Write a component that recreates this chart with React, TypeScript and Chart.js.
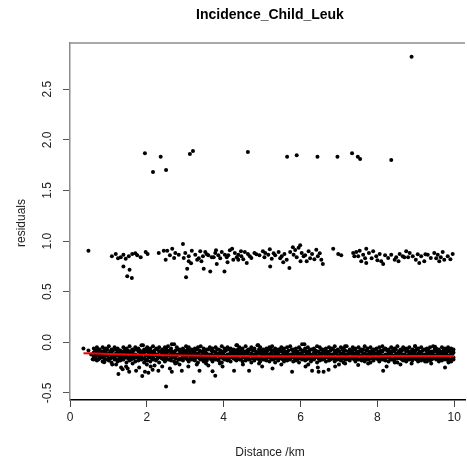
import React, { useEffect, useRef } from "react";
import { Chart, registerables } from "chart.js";

Chart.register(...registerables);

const TITLE = "Incidence_Child_Leuk";
const X_TITLE = "Distance /km";
const Y_TITLE = "residuals";

const xTicks = [0, 2, 4, 6, 8, 10];
const yTicks = [-0.5, 0, 0.5, 1, 1.5, 2, 2.5];
const yTickLabels = ["-0.5", "0.0", "0.5", "1.0", "1.5", "2.0", "2.5"];

// top cluster (~1.8) and the single high outlier
const topX = [1.95, 2.16, 2.36, 2.5, 3.12, 3.2, 4.63, 5.65, 5.9, 6.44, 6.96, 7.34, 7.49, 7.55, 8.36, 8.89];
const topY = [1.868, 1.683, 1.834, 1.703, 1.861, 1.89, 1.88, 1.834, 1.848, 1.834, 1.834, 1.868, 1.834, 1.81, 1.8, 2.822];

// middle band (~0.85)
const midX = [
  0.48, 1.09, 1.19, 1.32, 1.39, 1.45, 1.53, 1.62, 1.75, 1.84, 1.97, 2.02, 1.39, 1.55, 1.49, 1.61,
  2.31, 2.44, 2.53, 2.66, 2.74, 2.49, 2.71, 2.94, 2.83, 2.96, 3.0, 3.09, 3.17, 3.26, 3.31, 3.39,
  3.46, 3.52, 3.6, 3.69, 3.78, 3.86, 3.95, 4.03, 4.08, 4.16, 4.22, 4.29, 4.38, 4.46, 4.55, 4.63,
  4.72, 4.8, 4.93, 5.02, 5.06, 3.09, 3.05, 3.02, 3.48, 3.65, 3.82, 4.02, 4.6, 4.38, 4.25,
  5.08, 5.16, 5.25, 5.21, 5.34, 5.43, 5.51, 5.58, 5.64, 5.71, 5.73, 5.82, 5.86, 5.95, 5.99, 6.03,
  6.08, 6.16, 6.21, 6.3, 6.41, 6.45, 6.54, 6.58, 6.85, 6.98, 7.06, 7.37, 7.45, 7.54, 7.63, 7.71,
  7.78, 7.58, 7.71, 7.89, 7.97, 8.06, 8.1, 8.15, 8.28, 8.36, 8.45, 8.49, 8.58, 8.66, 8.75, 8.84,
  8.92, 9.0, 9.09, 9.14, 9.22, 9.31, 9.39, 9.48, 9.57, 9.61, 9.7, 9.74, 9.83, 9.96,
  3.35, 3.56, 3.74, 3.91, 4.12, 4.34, 4.51, 4.68, 4.85, 5.3, 5.47, 5.9, 6.12, 6.36, 7.5, 7.85, 8.2, 8.7, 9.05, 9.53,
  1.25, 1.7, 2.6, 3.15, 3.42, 3.8, 4.1, 4.45, 5.2, 5.55, 5.8, 6.0, 6.25, 6.5, 7.4, 7.68, 8.0, 8.55, 8.8, 9.25, 9.65, 9.9
];
const midY = [
  0.905, 0.85, 0.873, 0.84, 0.865, 0.826, 0.85, 0.873, 0.86, 0.84, 0.892, 0.873, 0.75, 0.718, 0.652, 0.635,
  0.882, 0.905, 0.905, 0.925, 0.882, 0.816, 0.833, 0.971, 0.865, 0.833, 0.882, 0.85, 0.905, 0.865, 0.816, 0.9,
  0.85, 0.892, 0.86, 0.84, 0.882, 0.86, 0.892, 0.865, 0.84, 0.91, 0.925, 0.882, 0.865, 0.85, 0.892, 0.873,
  0.833, 0.882, 0.86, 0.9, 0.84, 0.8, 0.727, 0.642, 0.727, 0.7, 0.774, 0.7, 0.783, 0.816, 0.816,
  0.882, 0.865, 0.826, 0.75, 0.86, 0.892, 0.85, 0.873, 0.816, 0.734, 0.892, 0.865, 0.912, 0.935, 0.96, 0.882,
  0.85, 0.8, 0.9, 0.873, 0.915, 0.85, 0.816, 0.774, 0.925, 0.873, 0.86, 0.882, 0.892, 0.905, 0.865, 0.925,
  0.882, 0.8, 0.783, 0.9, 0.85, 0.873, 0.8, 0.774, 0.833, 0.865, 0.816, 0.84, 0.873, 0.85, 0.9, 0.882,
  0.85, 0.816, 0.783, 0.85, 0.8, 0.865, 0.833, 0.882, 0.865, 0.8, 0.892, 0.816, 0.85, 0.873,
  0.83, 0.87, 0.84, 0.83, 0.86, 0.84, 0.82, 0.85, 0.87, 0.88, 0.83, 0.84, 0.86, 0.82, 0.85, 0.83, 0.86, 0.84, 0.87, 0.83,
  0.83, 0.88, 0.86, 0.78, 0.8, 0.91, 0.79, 0.9, 0.92, 0.79, 0.94, 0.8, 0.83, 0.88, 0.85, 0.83, 0.81, 0.8, 0.84, 0.87, 0.84, 0.82
];

// dense bottom band (~-0.12): column positions and rows of residuals
const bandX = [
  0.62, 0.7, 0.77, 0.85, 0.93, 1.01, 1.08, 1.16, 1.24, 1.31,
  1.39, 1.47, 1.55, 1.62, 1.7, 1.78, 1.86, 1.93, 2.01, 2.09,
  2.16, 2.24, 2.32, 2.4, 2.47, 2.55, 2.63, 2.71, 2.78, 2.86,
  2.94, 3.02, 3.09, 3.17, 3.25, 3.33, 3.4, 3.48, 3.56, 3.64,
  3.71, 3.79, 3.87, 3.95, 4.02, 4.1, 4.18, 4.26, 4.33, 4.41,
  4.49, 4.57, 4.64, 4.72, 4.8, 4.88, 4.95, 5.03, 5.11, 5.19,
  5.26, 5.34, 5.42, 5.5, 5.57, 5.65, 5.73, 5.81, 5.88, 5.96,
  6.04, 6.12, 6.19, 6.27, 6.35, 6.43, 6.5, 6.58, 6.66, 6.74,
  6.81, 6.89, 6.97, 7.05, 7.12, 7.2, 7.28, 7.36, 7.43, 7.51,
  7.59, 7.67, 7.74, 7.82, 7.9, 7.98, 8.05, 8.13, 8.21, 8.29,
  8.36, 8.44, 8.52, 8.6, 8.67, 8.75, 8.83, 8.91, 8.98, 9.06,
  9.14, 9.22, 9.29, 9.37, 9.45, 9.53, 9.6, 9.68, 9.76, 9.84,
  9.92, 9.98
];
const bandRow1 = [
  -0.06, -0.05, -0.07, -0.05, -0.06, -0.04, -0.07, -0.05, -0.06, -0.08,
  -0.05, -0.06, -0.04, -0.07, -0.05, -0.06, -0.03, -0.07, -0.05, -0.06,
  -0.04, -0.06, -0.05, -0.07, -0.05, -0.04, -0.06, -0.02, -0.05, -0.07,
  -0.06, -0.04, -0.05, -0.07, -0.06, -0.05, -0.04, -0.06, -0.07, -0.05,
  -0.06, -0.05, -0.07, -0.04, -0.06, -0.05, -0.06, -0.07, -0.03, -0.05,
  -0.06, -0.04, -0.07, -0.05, -0.06, -0.03, -0.05, -0.07, -0.06, -0.05,
  -0.04, -0.06, -0.07, -0.05, -0.06, -0.05, -0.04, -0.07, -0.06, -0.05,
  -0.02, -0.06, -0.05, -0.07, -0.06, -0.04, -0.05, -0.07, -0.06, -0.05,
  -0.06, -0.04, -0.07, -0.05, -0.06, -0.04, -0.07, -0.05, -0.06, -0.05,
  -0.07, -0.04, -0.06, -0.05, -0.07, -0.06, -0.05, -0.04, -0.06, -0.07,
  -0.05, -0.06, -0.04, -0.07, -0.05, -0.06, -0.05, -0.07, -0.04, -0.06,
  -0.05, -0.07, -0.06, -0.05, -0.04, -0.06, -0.07, -0.05, -0.06, -0.05,
  -0.06, -0.07
];
const bandRow2 = [
  -0.1, -0.09, -0.11, -0.1, -0.09, -0.11, -0.1, -0.12, -0.09, -0.11,
  -0.1, -0.09, -0.11, -0.1, -0.12, -0.09, -0.11, -0.1, -0.09, -0.11,
  -0.1, -0.12, -0.09, -0.11, -0.1, -0.09, -0.11, -0.1, -0.12, -0.09,
  -0.11, -0.1, -0.09, -0.12, -0.1, -0.11, -0.09, -0.1, -0.11, -0.12,
  -0.09, -0.1, -0.11, -0.1, -0.09, -0.12, -0.1, -0.11, -0.09, -0.1,
  -0.11, -0.1, -0.09, -0.11, -0.12, -0.1, -0.09, -0.11, -0.1, -0.12,
  -0.09, -0.11, -0.1, -0.09, -0.11, -0.1, -0.12, -0.09, -0.1, -0.11,
  -0.1, -0.09, -0.11, -0.12, -0.1, -0.09, -0.11, -0.1, -0.09, -0.11,
  -0.12, -0.1, -0.09, -0.11, -0.1, -0.12, -0.09, -0.1, -0.11, -0.1,
  -0.09, -0.11, -0.12, -0.1, -0.09, -0.11, -0.1, -0.09, -0.12, -0.11,
  -0.1, -0.09, -0.11, -0.1, -0.12, -0.09, -0.11, -0.1, -0.09, -0.11,
  -0.1, -0.12, -0.09, -0.11, -0.1, -0.09, -0.11, -0.12, -0.1, -0.09,
  -0.11, -0.1
];
const bandRow3 = [
  -0.14, -0.13, -0.15, -0.14, -0.13, -0.16, -0.14, -0.15, -0.13, -0.14,
  -0.16, -0.13, -0.15, -0.14, -0.13, -0.15, -0.14, -0.16, -0.13, -0.14,
  -0.15, -0.13, -0.14, -0.16, -0.15, -0.13, -0.14, -0.15, -0.13, -0.16,
  -0.14, -0.15, -0.13, -0.14, -0.16, -0.13, -0.15, -0.14, -0.13, -0.15,
  -0.16, -0.14, -0.13, -0.15, -0.14, -0.16, -0.13, -0.14, -0.15, -0.13,
  -0.14, -0.16, -0.15, -0.13, -0.14, -0.15, -0.16, -0.13, -0.14, -0.15,
  -0.13, -0.14, -0.16, -0.15, -0.13, -0.14, -0.15, -0.13, -0.16, -0.14,
  -0.15, -0.13, -0.14, -0.15, -0.16, -0.13, -0.14, -0.15, -0.13, -0.14,
  -0.16, -0.15, -0.13, -0.14, -0.15, -0.13, -0.16, -0.14, -0.15, -0.13,
  -0.14, -0.16, -0.15, -0.13, -0.14, -0.15, -0.13, -0.16, -0.14, -0.15,
  -0.13, -0.14, -0.16, -0.15, -0.13, -0.14, -0.15, -0.16, -0.13, -0.14,
  -0.15, -0.13, -0.16, -0.14, -0.15, -0.13, -0.14, -0.16, -0.15, -0.14,
  -0.13, -0.15
];
const bandRow4 = [
  -0.17, -0.18, -0.16, -0.19, -0.17, -0.18, -0.2, -0.17, -0.19, -0.18,
  -0.17, -0.2, -0.18, -0.16, -0.19, -0.18, -0.17, -0.2, -0.18, -0.19,
  -0.17, -0.18, -0.2, -0.16, -0.19, -0.17, -0.18, -0.19, -0.2, -0.17,
  -0.18, -0.16, -0.19, -0.17, -0.18, -0.2, -0.17, -0.19, -0.18, -0.16,
  -0.19, -0.17, -0.18, -0.2, -0.17, -0.18, -0.19, -0.16, -0.18, -0.17,
  -0.19, -0.18, -0.17, -0.2, -0.18, -0.16, -0.19, -0.17, -0.18, -0.19,
  -0.17, -0.2, -0.18, -0.16, -0.19, -0.18, -0.17, -0.19, -0.18, -0.2,
  -0.17, -0.18, -0.16, -0.19, -0.17, -0.2, -0.18, -0.17, -0.19, -0.18,
  -0.16, -0.19, -0.17, -0.18, -0.2, -0.17, -0.18, -0.16, -0.19, -0.17,
  -0.18, -0.19, -0.17, -0.2, -0.18, -0.16, -0.19, -0.17, -0.18, -0.19,
  -0.17, -0.18, -0.2, -0.16, -0.18, -0.19, -0.17, -0.18, -0.16, -0.19,
  -0.18, -0.17, -0.19, -0.18, -0.16, -0.17, -0.19, -0.18, -0.17, -0.18,
  -0.19, -0.17
];
const bandX2 = [
  0.66, 0.74, 0.81, 0.89, 0.97, 1.05, 1.12, 1.2, 1.28, 1.35,
  1.43, 1.51, 1.59, 1.66, 1.74, 1.82, 1.9, 1.97, 2.05, 2.13,
  2.2, 2.28, 2.36, 2.44, 2.51, 2.59, 2.67, 2.75, 2.82, 2.9,
  2.98, 3.06, 3.13, 3.21, 3.29, 3.37, 3.44, 3.52, 3.6, 3.68,
  3.75, 3.83, 3.91, 3.99, 4.06, 4.14, 4.22, 4.3, 4.37, 4.45,
  4.53, 4.61, 4.68, 4.76, 4.84, 4.92, 4.99, 5.07, 5.15, 5.23,
  5.3, 5.38, 5.46, 5.54, 5.61, 5.69, 5.77, 5.85, 5.92, 6.0,
  6.08, 6.16, 6.23, 6.31, 6.39, 6.47, 6.54, 6.62, 6.7, 6.78,
  6.85, 6.93, 7.01, 7.09, 7.16, 7.24, 7.32, 7.4, 7.47, 7.55,
  7.63, 7.71, 7.78, 7.86, 7.94, 8.02, 8.09, 8.17, 8.25, 8.33,
  8.4, 8.48, 8.56, 8.64, 8.71, 8.79, 8.87, 8.95, 9.02, 9.1,
  9.18, 9.26, 9.33, 9.41, 9.49, 9.57, 9.64, 9.72, 9.8, 9.88,
  9.95
];
const bandRowA = [
  -0.08, -0.07, -0.09, -0.08, -0.07, -0.09, -0.08, -0.07, -0.08, -0.09,
  -0.07, -0.08, -0.09, -0.08, -0.07, -0.08, -0.09, -0.07, -0.08, -0.09,
  -0.08, -0.07, -0.09, -0.08, -0.07, -0.08, -0.09, -0.08, -0.07, -0.09,
  -0.08, -0.07, -0.08, -0.09, -0.07, -0.08, -0.09, -0.08, -0.07, -0.08,
  -0.09, -0.07, -0.08, -0.09, -0.08, -0.07, -0.09, -0.08, -0.07, -0.08,
  -0.09, -0.08, -0.07, -0.08, -0.09, -0.07, -0.08, -0.09, -0.08, -0.07,
  -0.08, -0.09, -0.07, -0.08, -0.09, -0.08, -0.07, -0.08, -0.09, -0.07,
  -0.08, -0.09, -0.08, -0.07, -0.08, -0.09, -0.07, -0.08, -0.09, -0.08,
  -0.07, -0.08, -0.09, -0.07, -0.08, -0.09, -0.08, -0.07, -0.09, -0.08,
  -0.07, -0.08, -0.09, -0.08, -0.07, -0.09, -0.08, -0.07, -0.08, -0.09,
  -0.08, -0.07, -0.09, -0.08, -0.07, -0.08, -0.09, -0.08, -0.07, -0.09,
  -0.08, -0.07, -0.08, -0.09, -0.07, -0.08, -0.09, -0.08, -0.07, -0.08,
  -0.09
];
const bandRowB = [
  -0.12, -0.13, -0.12, -0.11, -0.13, -0.12, -0.13, -0.11, -0.12, -0.13,
  -0.12, -0.11, -0.13, -0.12, -0.13, -0.12, -0.11, -0.13, -0.12, -0.13,
  -0.11, -0.12, -0.13, -0.12, -0.11, -0.13, -0.12, -0.13, -0.12, -0.11,
  -0.13, -0.12, -0.11, -0.13, -0.12, -0.13, -0.12, -0.11, -0.13, -0.12,
  -0.13, -0.12, -0.11, -0.12, -0.13, -0.12, -0.13, -0.11, -0.12, -0.13,
  -0.12, -0.11, -0.13, -0.12, -0.13, -0.11, -0.12, -0.13, -0.12, -0.11,
  -0.13, -0.12, -0.13, -0.12, -0.11, -0.13, -0.12, -0.11, -0.13, -0.12,
  -0.13, -0.12, -0.11, -0.13, -0.12, -0.13, -0.12, -0.11, -0.12, -0.13,
  -0.12, -0.11, -0.13, -0.12, -0.13, -0.12, -0.11, -0.13, -0.12, -0.13,
  -0.11, -0.12, -0.13, -0.12, -0.11, -0.13, -0.12, -0.13, -0.12, -0.11,
  -0.13, -0.12, -0.11, -0.13, -0.12, -0.13, -0.12, -0.11, -0.13, -0.12,
  -0.13, -0.12, -0.11, -0.12, -0.13, -0.12, -0.13, -0.11, -0.12, -0.13,
  -0.12
];
const bandRowC = [
  -0.16, -0.17, -0.15, -0.16, -0.17, -0.16, -0.15, -0.17, -0.16, -0.17,
  -0.15, -0.16, -0.17, -0.16, -0.15, -0.17, -0.16, -0.17, -0.15, -0.16,
  -0.17, -0.16, -0.15, -0.17, -0.16, -0.17, -0.15, -0.16, -0.17, -0.16,
  -0.15, -0.17, -0.16, -0.17, -0.15, -0.16, -0.17, -0.16, -0.15, -0.17,
  -0.16, -0.17, -0.15, -0.16, -0.17, -0.16, -0.15, -0.17, -0.16, -0.17,
  -0.15, -0.16, -0.17, -0.16, -0.15, -0.17, -0.16, -0.17, -0.15, -0.16,
  -0.17, -0.16, -0.15, -0.17, -0.16, -0.17, -0.15, -0.16, -0.17, -0.16,
  -0.15, -0.17, -0.16, -0.17, -0.15, -0.16, -0.17, -0.16, -0.15, -0.17,
  -0.16, -0.17, -0.15, -0.16, -0.17, -0.16, -0.15, -0.17, -0.16, -0.17,
  -0.15, -0.16, -0.17, -0.16, -0.15, -0.17, -0.16, -0.17, -0.15, -0.16,
  -0.17, -0.16, -0.15, -0.17, -0.16, -0.17, -0.15, -0.16, -0.17, -0.16,
  -0.15, -0.17, -0.16, -0.17, -0.15, -0.16, -0.17, -0.16, -0.15, -0.17,
  -0.16
];

// scattered points around the bottom band
const lowX = [
  0.35, 0.59, 0.89, 1.26, 1.37, 1.46, 1.54, 1.63, 1.72, 1.88, 1.95, 2.04, 2.1, 2.3, 2.5, 2.65,
  2.74, 2.91, 3.08, 3.22, 3.37, 3.54, 3.71, 3.78, 3.97, 4.27, 4.66, 4.92, 5.27, 5.78, 6.13, 6.3,
  6.47, 6.6, 6.73, 6.9, 7.16, 7.5, 7.76, 8.15, 8.24, 8.45, 8.89, 9.24, 9.76,
  1.9, 2.65, 4.35, 4.9, 6.1, 7.16, 8.98, 9.5, 0.48, 0.55, 1.2, 1.33, 2.2, 2.85, 3.6, 5.5,
  1.1, 1.5, 1.8, 2.0, 2.15, 2.4, 2.6, 3.3, 3.9, 4.5, 5.0, 6.2, 6.45, 7.0, 8.6, 9.4, 9.85
];
const lowY = [
  -0.06, -0.168, -0.198, -0.313, -0.267, -0.24, -0.29, -0.21, -0.28, -0.333, -0.29, -0.3, -0.24, -0.28, -0.436, -0.29,
  -0.21, -0.28, -0.24, -0.39, -0.28, -0.21, -0.285, -0.33, -0.24, -0.28, -0.28, -0.21, -0.26, -0.29, -0.24, -0.28,
  -0.29, -0.29, -0.27, -0.24, -0.21, -0.225, -0.21, -0.28, -0.24, -0.2, -0.21, -0.19, -0.25,
  -0.03, -0.02, -0.03, -0.03, -0.02, -0.04, -0.04, -0.045, -0.08, -0.12, -0.22, -0.25, -0.23, -0.22, -0.23, -0.22,
  -0.22, -0.26, -0.25, -0.22, -0.27, -0.24, -0.26, -0.22, -0.21, -0.22, -0.24, -0.22, -0.25, -0.22, -0.22, -0.21, -0.2
];

// red smoother
const fitX = [0.35, 1, 2, 3, 4, 5, 6, 7, 8, 9, 10];
const fitY = [-0.108, -0.115, -0.124, -0.131, -0.135, -0.137, -0.138, -0.138, -0.137, -0.136, -0.135];

const toPts = (xs: number[], ys: number[]) => xs.map((x, i) => ({ x, y: ys[i] }));

const FONT = '"Liberation Sans", Arial, Helvetica, sans-serif';

const textPlugin = {
  id: "rtexts",
  afterDraw(chart: any) {
    const { ctx, chartArea, scales } = chart;
    ctx.save();
    ctx.strokeStyle = "#8c8c8c";
    ctx.lineWidth = 1.5;
    ctx.beginPath();
    ctx.moveTo(chartArea.left, chartArea.top);
    ctx.lineTo(chartArea.right, chartArea.top);
    ctx.stroke();

    ctx.fillStyle = "#000";
    ctx.textAlign = "center";
    ctx.textBaseline = "middle";
    ctx.font = `bold 14px ${FONT}`;
    ctx.fillText(TITLE, 270, 15);

    ctx.fillStyle = "#222";
    ctx.font = `12px ${FONT}`;
    ctx.fillText(X_TITLE, 270, 453);

    ctx.save();
    ctx.translate(22, 223);
    ctx.rotate(-Math.PI / 2);
    ctx.fillText(Y_TITLE, 0, 0);
    ctx.restore();

    yTicks.forEach((v, i) => {
      const py = scales.y.getPixelForValue(v);
      ctx.save();
      ctx.translate(48, py);
      ctx.rotate(-Math.PI / 2);
      ctx.fillText(yTickLabels[i], 0, 0);
      ctx.restore();
    });
    ctx.restore();
  },
};

export default function App() {
  const ref = useRef<HTMLCanvasElement>(null);
  useEffect(() => {
    if (!ref.current) return;
    const pointStyle = {
      type: "scatter" as const,
      backgroundColor: "#000",
      borderWidth: 0,
      pointRadius: 2,
      pointHoverRadius: 2,
    };
    const chart = new Chart(ref.current, {
      type: "scatter",
      data: {
        datasets: [
          {
            type: "line",
            data: toPts(fitX, fitY),
            borderColor: "#ff0000",
            borderWidth: 2,
            pointRadius: 0,
            showLine: true,
            fill: false,
            tension: 0.3,
          } as any,
          { ...pointStyle, data: toPts(bandX, bandRow1) },
          { ...pointStyle, data: toPts(bandX, bandRow2) },
          { ...pointStyle, data: toPts(bandX, bandRow3) },
          { ...pointStyle, data: toPts(bandX, bandRow4) },
          { ...pointStyle, data: toPts(bandX2, bandRowA) },
          { ...pointStyle, data: toPts(bandX2, bandRowB) },
          { ...pointStyle, data: toPts(bandX2, bandRowC) },
          { ...pointStyle, data: toPts(lowX, lowY) },
          { ...pointStyle, data: toPts(midX, midY) },
          { ...pointStyle, data: toPts(topX, topY) },
        ],
      },
      plugins: [textPlugin],
      options: {
        responsive: false,
        animation: false,
        layout: { padding: { top: 43, right: 0, left: 0, bottom: 0 } },
        plugins: { legend: { display: false }, tooltip: { enabled: false }, title: { display: false } },
        scales: {
          x: {
            type: "linear",
            min: 0,
            max: 10.28,
            afterBuildTicks: (s: any) => {
              s.ticks = xTicks.map((v) => ({ value: v }));
            },
            afterFit: (s: any) => {
              s.height = 65;
            },
            border: { display: true, color: "#000", width: 1.5 },
            grid: { display: true, drawOnChartArea: false, drawTicks: true, tickLength: 7, color: "#444", lineWidth: 1 },
            ticks: {
              color: "#222",
              font: { family: FONT, size: 12 },
              padding: 3,
              maxRotation: 0,
              callback: (v: any) => String(v),
            },
          },
          y: {
            type: "linear",
            min: -0.57,
            max: 2.957,
            afterBuildTicks: (s: any) => {
              s.ticks = yTicks.map((v) => ({ value: v }));
            },
            afterFit: (s: any) => {
              s.width = 70;
            },
            border: { display: true, color: "#8c8c8c", width: 1.5 },
            grid: { display: true, drawOnChartArea: false, drawTicks: true, tickLength: 7, color: "#555", lineWidth: 1 },
            ticks: { display: false },
          },
        },
      },
    });
    return () => chart.destroy();
  }, []);
  return (
    <div style={{ position: "fixed", left: 0, top: 0, width: 467, height: 465, background: "#fff" }}>
      <canvas ref={ref} width={467} height={465} style={{ width: 467, height: 465, display: "block" }} />
    </div>
  );
}
